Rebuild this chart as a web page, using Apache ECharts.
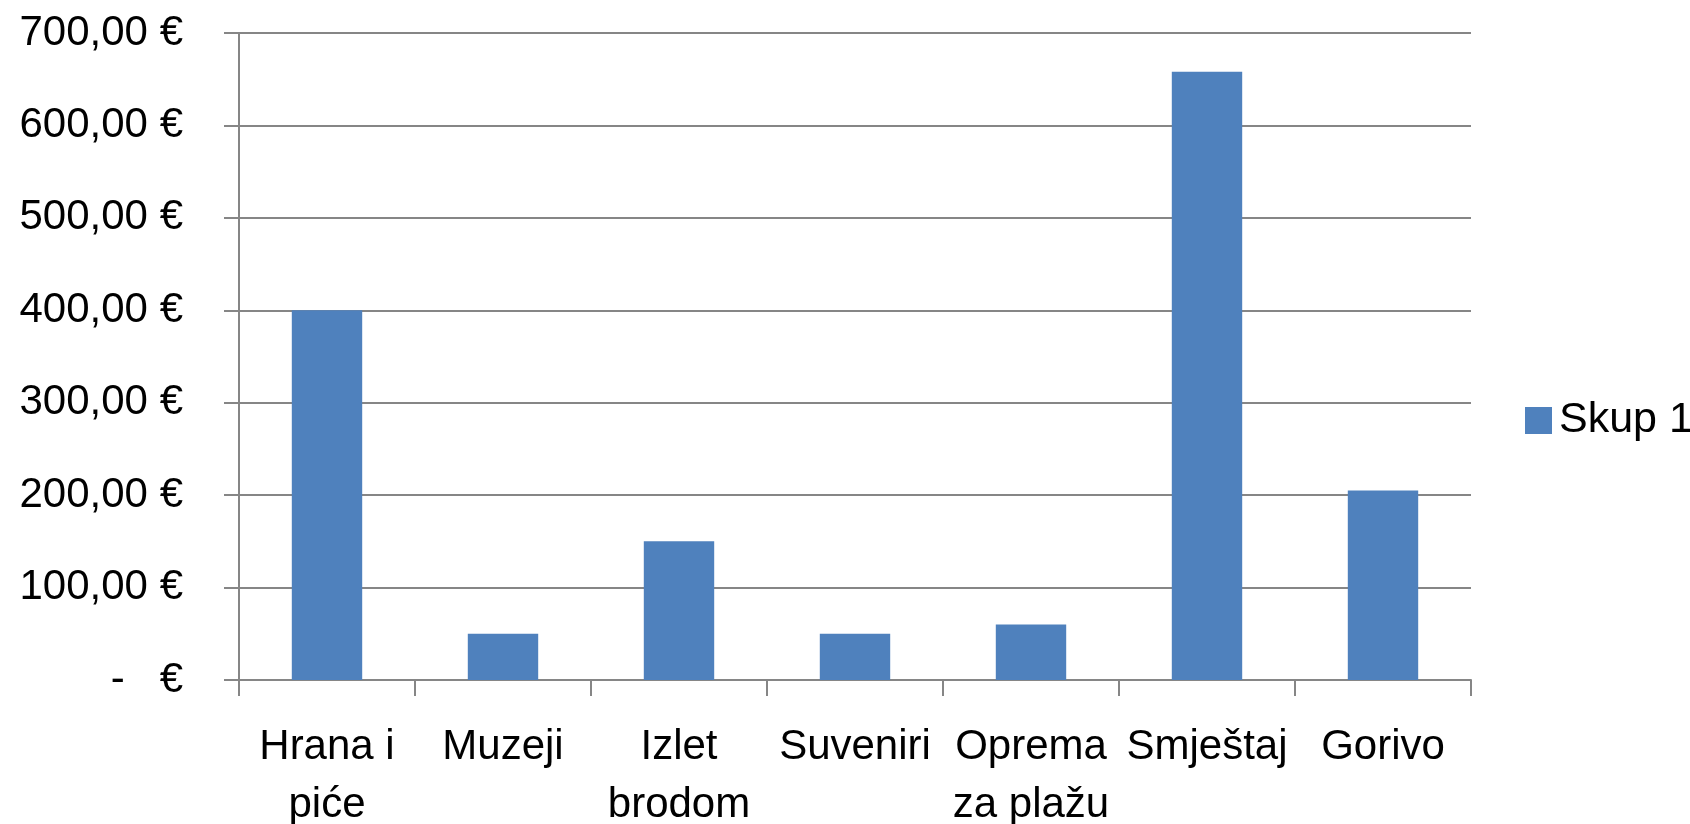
<!DOCTYPE html>
<html>
<head>
<meta charset="utf-8">
<script src="https://cdn.jsdelivr.net/npm/echarts@6/dist/echarts.min.js"></script>
<style>html,body{margin:0;padding:0;background:#fff;}#c{width:1690px;height:824px;}</style>
</head>
<body>
<div id="c"></div>
<script>
const categories = ['Hrana i\npiće', 'Muzeji', 'Izlet\nbrodom', 'Suveniri', 'Oprema\nza plažu', 'Smještaj', 'Gorivo'];
const seriesName = 'Skup 1';
const values = [400, 50, 150, 50, 60, 658, 205];
const yMin = 0, yMax = 700, yStep = 100;

const FONT = 'Liberation Sans';
const chart = echarts.init(document.getElementById('c'));
chart.setOption({
  backgroundColor: '#ffffff',
  animation: false,
  textStyle: { fontFamily: FONT },
  grid: { left: 239, right: 219, top: 33, bottom: 144, containLabel: false, outerBoundsMode: 'none' },
  legend: {
    data: [seriesName],
    orient: 'vertical',
    left: 1520,
    top: 394,
    itemWidth: 27,
    itemHeight: 27,
    itemGap: 0,
    icon: 'rect',
    textStyle: { fontFamily: FONT, fontSize: 43, color: '#000', padding: [0, 0, 0, 2] }
  },
  xAxis: {
    type: 'category',
    data: categories,
    axisLine: { lineStyle: { color: '#868686', width: 2 } },
    axisTick: { show: true, length: 16, alignWithLabel: false, lineStyle: { color: '#868686', width: 2 } },
    axisLabel: {
      interval: 0,
      margin: 38,
      color: '#000',
      fontFamily: FONT,
      fontSize: 42,
      lineHeight: 58
    }
  },
  yAxis: {
    type: 'value',
    min: yMin,
    max: yMax,
    interval: yStep,
    axisLine: { show: true, lineStyle: { color: '#868686', width: 2 } },
    axisTick: { show: true, length: 15, lineStyle: { color: '#868686', width: 2 } },
    splitLine: { show: true, lineStyle: { color: '#868686', width: 2 } },
    axisLabel: {
      margin: 56,
      color: '#000',
      fontFamily: FONT,
      fontSize: 42,
      formatter: function (v) {
        if (v === 0) return '-   €';
        return v.toFixed(2).replace('.', ',') + ' €';
      }
    }
  },
  series: [{
    name: seriesName,
    type: 'bar',
    data: values,
    barWidth: '40%',
    itemStyle: { color: '#4F81BD' }
  }]
});
</script>
</body>
</html>
